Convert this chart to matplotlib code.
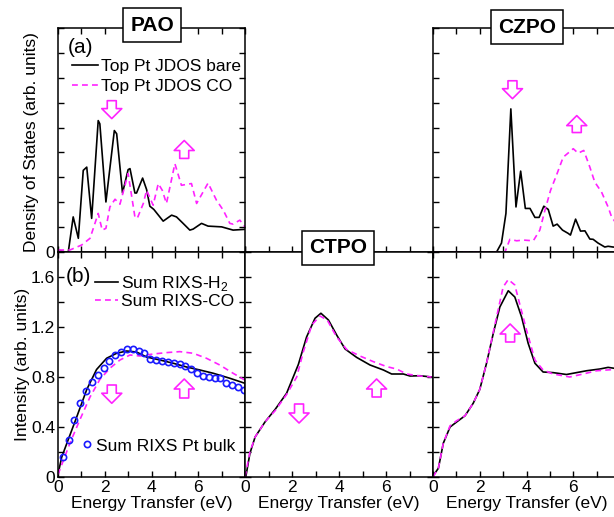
import matplotlib
matplotlib.use('Agg')
import matplotlib.pyplot as plt

plt.rcParams['font.family'] = ['Liberation Sans', 'DejaVu Sans']
plt.rcParams['mathtext.fontset'] = 'custom'
plt.rcParams['mathtext.rm'] = 'Liberation Sans'

MAG = '#ff22ff'
BLUE = '#1a1aff'

# ---- top row: JDOS (arb. units) ----
pao_bare_x = [0.01, 0.30, 0.44, 0.65, 0.87, 1.08, 1.23, 1.44, 1.72, 1.79, 2.05, 2.41, 2.51, 2.76,
              3.00, 3.08, 3.29, 3.36, 3.62, 3.79, 3.93, 4.10, 4.50, 4.86, 5.07, 5.33, 5.64, 5.78,
              6.14, 6.42, 7.00, 7.49, 7.99]
pao_bare_y = [0.08, 0.0, 0.0, 1.41, 0.55, 3.28, 3.41, 1.35, 5.28, 5.15, 2.01, 4.88, 4.75, 2.37,
              3.31, 3.35, 2.37, 2.37, 2.97, 2.51, 1.84, 1.71, 1.24, 1.48, 1.41, 1.17, 0.88, 0.92,
              1.15, 1.04, 1.01, 0.88, 0.91]
pao_co_x = [0.01, 0.51, 1.01, 1.37, 1.72, 1.89, 2.05, 2.22, 2.44, 2.65, 3.00, 3.29, 3.39, 3.65,
            3.79, 4.07, 4.29, 4.46, 4.64, 5.00, 5.28, 5.71, 5.93, 6.42, 6.78, 7.07, 7.35, 7.49,
            7.78, 7.99]
pao_co_y = [0.08, 0.08, 0.28, 0.55, 1.55, 0.88, 0.95, 1.81, 2.12, 1.92, 3.15, 1.41, 1.35, 1.95,
            2.48, 1.88, 2.75, 2.48, 1.95, 3.55, 2.68, 2.75, 1.95, 2.77, 2.08, 1.68, 1.15, 1.12,
            1.28, 1.01]

czpo_bare_x = [0.0, 2.72, 2.93, 3.12, 3.33, 3.55, 3.75, 3.95, 4.15, 4.36, 4.54, 4.74, 4.93, 5.14,
               5.31, 5.54, 5.78, 5.88, 6.10, 6.31, 6.50, 6.71, 6.85, 7.06, 7.35, 7.49, 7.70, 8.0]
czpo_bare_y = [0.0, 0.0, 0.36, 1.55, 5.75, 1.81, 3.25, 1.75, 1.75, 1.39, 1.39, 1.84, 1.71, 1.04,
               1.12, 0.88, 0.75, 0.68, 1.32, 0.84, 0.85, 0.52, 0.51, 0.36, 0.20, 0.23, 0.20, 0.18]
czpo_co_x = [0.0, 3.08, 3.29, 3.58, 3.86, 4.29, 4.57, 4.79, 5.03, 5.28, 5.57, 6.00, 6.21, 6.45,
             6.71, 6.92, 7.21, 7.49, 7.64, 7.74, 8.0]
czpo_co_y = [0.0, 0.0, 0.51, 0.45, 0.48, 0.45, 0.88, 1.68, 2.48, 3.08, 3.81, 4.15, 3.97, 4.08,
             3.41, 2.81, 2.41, 1.81, 1.41, 1.28, 0.9]

# ---- bottom row: summed RIXS intensity ----
pao_h2_x = [0.01, 0.16, 0.80, 1.23, 1.65, 2.08, 2.51, 2.94, 3.36, 3.79, 4.36, 4.93, 5.50, 6.07,
            6.64, 7.35, 7.99]
pao_h2_y = [0.03, 0.16, 0.48, 0.70, 0.86, 0.95, 0.99, 1.008, 1.0, 0.96, 0.936, 0.91, 0.88, 0.856,
            0.83, 0.79, 0.75]
pao_rco_x = [0.0, 0.51, 0.94, 1.37, 1.79, 2.22, 2.65, 3.08, 3.50, 4.07, 4.64, 5.21, 5.78, 6.35,
             6.92, 7.49, 7.99]
pao_rco_y = [0.02, 0.27, 0.46, 0.64, 0.78, 0.87, 0.936, 0.976, 0.968, 0.984, 0.995, 1.003, 0.99,
             0.95, 0.896, 0.83, 0.776]
bulk_x = [0.20, 0.45, 0.70, 0.95, 1.20, 1.45, 1.70, 1.95, 2.20, 2.45, 2.70, 2.95, 3.20, 3.45,
          3.70, 3.95, 4.20, 4.45, 4.70, 4.95, 5.20, 5.45, 5.70, 5.95, 6.20, 6.45, 6.70, 6.95,
          7.20, 7.45, 7.70, 7.95]
bulk_y = [0.157, 0.296, 0.46, 0.59, 0.69, 0.76, 0.816, 0.875, 0.93, 0.98, 1.0, 1.027, 1.027, 1.01,
          0.99, 0.944, 0.94, 0.93, 0.923, 0.915, 0.904, 0.888, 0.864, 0.835, 0.808, 0.80, 0.795,
          0.79, 0.755, 0.74, 0.72, 0.70]

ctpo_h2_x = [0.04, 0.21, 0.43, 0.85, 1.28, 1.77, 2.27, 2.62, 2.98, 3.23, 3.55, 3.90, 4.26, 4.75,
             5.32, 5.89, 6.24, 6.74, 7.02, 7.45, 7.94]
ctpo_h2_y = [0.008, 0.19, 0.32, 0.44, 0.54, 0.67, 0.90, 1.12, 1.27, 1.31, 1.256, 1.136, 1.024,
             0.957, 0.896, 0.856, 0.824, 0.824, 0.808, 0.81, 0.80]
ctpo_co_x = [0.0, 0.21, 0.43, 0.85, 1.28, 1.77, 2.20, 2.48, 2.84, 3.19, 3.50, 3.90, 4.33, 4.89,
             5.46, 6.03, 6.45, 6.88, 7.45, 7.94]
ctpo_co_y = [0.0, 0.20, 0.32, 0.44, 0.53, 0.66, 0.80, 1.0, 1.216, 1.288, 1.256, 1.12, 1.02, 0.968,
             0.923, 0.883, 0.864, 0.824, 0.808, 0.80]

czpo_h2_x = [0.0, 0.23, 0.44, 0.73, 1.01, 1.37, 1.72, 2.00, 2.29, 2.58, 2.86, 3.22, 3.50, 3.79,
             4.07, 4.36, 4.71, 5.14, 5.71, 6.14, 6.57, 7.14, 7.49, 7.74, 8.0]
czpo_h2_y = [0.008, 0.07, 0.27, 0.40, 0.44, 0.49, 0.59, 0.70, 0.91, 1.15, 1.36, 1.49, 1.44, 1.28,
             1.07, 0.91, 0.84, 0.835, 0.82, 0.835, 0.85, 0.864, 0.877, 0.87, 0.87]
czpo_rco_x = [0.0, 0.23, 0.44, 0.73, 1.01, 1.37, 1.72, 2.00, 2.29, 2.58, 2.86, 3.00, 3.22, 3.50,
              3.72, 4.00, 4.36, 4.71, 5.14, 5.85, 6.42, 7.00, 7.74, 8.0]
czpo_rco_y = [0.0, 0.07, 0.27, 0.41, 0.45, 0.49, 0.59, 0.70, 0.91, 1.16, 1.40, 1.52, 1.58, 1.536,
              1.376, 1.176, 0.936, 0.856, 0.824, 0.80, 0.824, 0.85, 0.86, 0.86]

# hollow arrows: (x, tail_y, tip_y)
arrows_pao_top = [(2.3, 6.08, 5.36), (5.4, 3.76, 4.48)]
arrows_czpo_top = [(3.4, 6.88, 6.16), (6.15, 4.8, 5.48)]
arrows_pao_bot = [(2.3, 0.736, 0.59), (5.4, 0.632, 0.784)]
arrows_ctpo_bot = [(2.3, 0.584, 0.432), (5.6, 0.64, 0.784)]
arrows_czpo_bot = [(3.3, 1.08, 1.224)]

FS = 12.5
W, H = 614, 517


def px_axes(x0, x1, y0, y1):
    # pixel box -> figure fraction
    return [x0 / W, 1 - y1 / H, (x1 - x0) / W, (y1 - y0) / H]


def style(ax, top_row):
    ax.set_xlim(0, 8)
    ax.set_xticks(range(9))
    ax.set_xticklabels(['0', '', '2', '', '4', '', '6', '', ''])
    ax.tick_params(which='both', direction='in', top=True, right=True, length=4.5,
                   width=1, labelsize=FS, pad=2)
    for s in ax.spines.values():
        s.set_linewidth(1.1)
    if top_row:
        ax.set_ylim(0, 9)
        ax.set_yticks(range(10))
        ax.set_yticklabels(['0'] + [''] * 9)
        ax.tick_params(labelbottom=False)
    else:
        ax.set_ylim(0, 1.8)
        ax.set_yticks([i * 0.2 for i in range(10)])
        ax.set_yticklabels(['0', '', '0.4', '', '0.8', '', '1.2', '', '1.6', ''])
        ax.set_xlabel('Energy Transfer (eV)', fontsize=FS, labelpad=1)


def arrows(ax, lst):
    for x, y0, y1 in lst:
        ax.annotate('', xy=(x, y1), xytext=(x, y0),
                    arrowprops=dict(arrowstyle='simple,head_length=0.5,head_width=1.0,tail_width=0.45',
                                    fc='white', ec=MAG, lw=1.2, shrinkA=0, shrinkB=0,
                                    mutation_scale=14.4))


def title_box(ax, text, x, y):
    ax.text(x, y, text, transform=ax.transAxes, ha='center', va='center', fontsize=15,
            fontweight='bold', clip_on=False, zorder=10,
            bbox=dict(boxstyle='square,pad=0.35', fc='white', ec='black', lw=1.1))


def main():
    fig = plt.figure(figsize=(W / 100, H / 100), dpi=100)

    ax_a1 = fig.add_axes(px_axes(58, 245, 28, 252))
    ax_mid = fig.add_axes(px_axes(245, 433, 28, 252))
    ax_a3 = fig.add_axes(px_axes(433, 620, 28, 252))
    ax_b1 = fig.add_axes(px_axes(58, 245, 252, 477))
    ax_b2 = fig.add_axes(px_axes(245, 433, 252, 477))
    ax_b3 = fig.add_axes(px_axes(433, 620, 252, 477))

    for ax in (ax_a1, ax_a3):
        style(ax, True)
    for ax in (ax_b1, ax_b2, ax_b3):
        style(ax, False)
    ax_a3.tick_params(labelleft=False)
    ax_b2.tick_params(labelleft=False, top=False)
    ax_b3.tick_params(labelleft=False)

    # empty middle-top slot: only its bottom axis line with ticks
    ax_mid.set_xlim(0, 8)
    ax_mid.set_xticks(range(9))
    ax_mid.tick_params(direction='in', length=4.5, width=1, labelbottom=False, left=False,
                       labelleft=False)
    for k in ('top', 'left', 'right'):
        ax_mid.spines[k].set_visible(False)
    ax_mid.spines['bottom'].set_linewidth(1.1)
    ax_mid.set_zorder(-1)

    dash = (0, (3.5, 2.5))

    # (a) PAO JDOS
    l1, = ax_a1.plot(pao_bare_x, pao_bare_y, color='black', lw=1.2)
    l2, = ax_a1.plot(pao_co_x, pao_co_y, color=MAG, lw=1.2, ls=dash)
    ax_a1.legend([l1, l2], ['Top Pt JDOS bare', 'Top Pt JDOS CO'], loc='upper left',
                 bbox_to_anchor=(0.075, 0.862), frameon=False, fontsize=FS, handlelength=1.5,
                 handletextpad=0.15, labelspacing=0.28, borderpad=0, borderaxespad=0)
    ax_a1.text(0.118, 0.911, '(a)', transform=ax_a1.transAxes, fontsize=15, ha='center',
               va='center')
    ax_a1.set_ylabel('Density of States (arb. units)', fontsize=FS)
    ax_a1.yaxis.set_label_coords(-0.1, 0.49)
    arrows(ax_a1, arrows_pao_top)
    title_box(ax_a1, 'PAO', 0.503, 1.013)

    # CZPO JDOS
    ax_a3.plot(czpo_bare_x, czpo_bare_y, color='black', lw=1.2)
    ax_a3.plot(czpo_co_x, czpo_co_y, color=MAG, lw=1.2, ls=dash)
    arrows(ax_a3, arrows_czpo_top)
    title_box(ax_a3, 'CZPO', 0.503, 1.004)

    # (b) PAO RIXS
    h1, = ax_b1.plot(pao_h2_x, pao_h2_y, color='black', lw=1.2)
    h2, = ax_b1.plot(pao_rco_x, pao_rco_y, color=MAG, lw=1.2, ls=dash)
    h3, = ax_b1.plot(bulk_x, bulk_y, ls='none', marker='o', ms=4.5, mfc='none', mec=BLUE,
                     mew=1.2, clip_on=False)
    leg = ax_b1.legend([h1, h2], [r'Sum RIXS-H$_\mathregular{2}$', 'Sum RIXS-CO'],
                       loc='upper left', bbox_to_anchor=(0.2, 0.902), frameon=False, fontsize=FS,
                       handlelength=1.3, handletextpad=0.15, labelspacing=0.06, borderpad=0,
                       borderaxespad=0)
    ax_b1.add_artist(leg)
    ax_b1.legend([h3], ['Sum RIXS Pt bulk'], loc='center left', bbox_to_anchor=(0.118, 0.138),
                 frameon=False, fontsize=FS, handlelength=0.8, handletextpad=0.1, borderpad=0,
                 borderaxespad=0, numpoints=1)
    ax_b1.text(0.107, 0.889, '(b)', transform=ax_b1.transAxes, fontsize=15, ha='center',
               va='center')
    ax_b1.set_ylabel('Intensity (arb. units)', fontsize=FS)
    ax_b1.yaxis.set_label_coords(-0.15, 0.5)
    arrows(ax_b1, arrows_pao_bot)

    # CTPO RIXS
    ax_b2.plot(ctpo_h2_x, ctpo_h2_y, color='black', lw=1.2)
    ax_b2.plot(ctpo_co_x, ctpo_co_y, color=MAG, lw=1.2, ls=dash)
    arrows(ax_b2, arrows_ctpo_bot)
    title_box(ax_b2, 'CTPO', 0.495, 1.018)

    # CZPO RIXS
    ax_b3.plot(czpo_h2_x, czpo_h2_y, color='black', lw=1.2)
    ax_b3.plot(czpo_rco_x, czpo_rco_y, color=MAG, lw=1.2, ls=dash)
    arrows(ax_b3, arrows_czpo_bot)

    fig.savefig('out.png', dpi=100)


if __name__ == '__main__':
    main()
